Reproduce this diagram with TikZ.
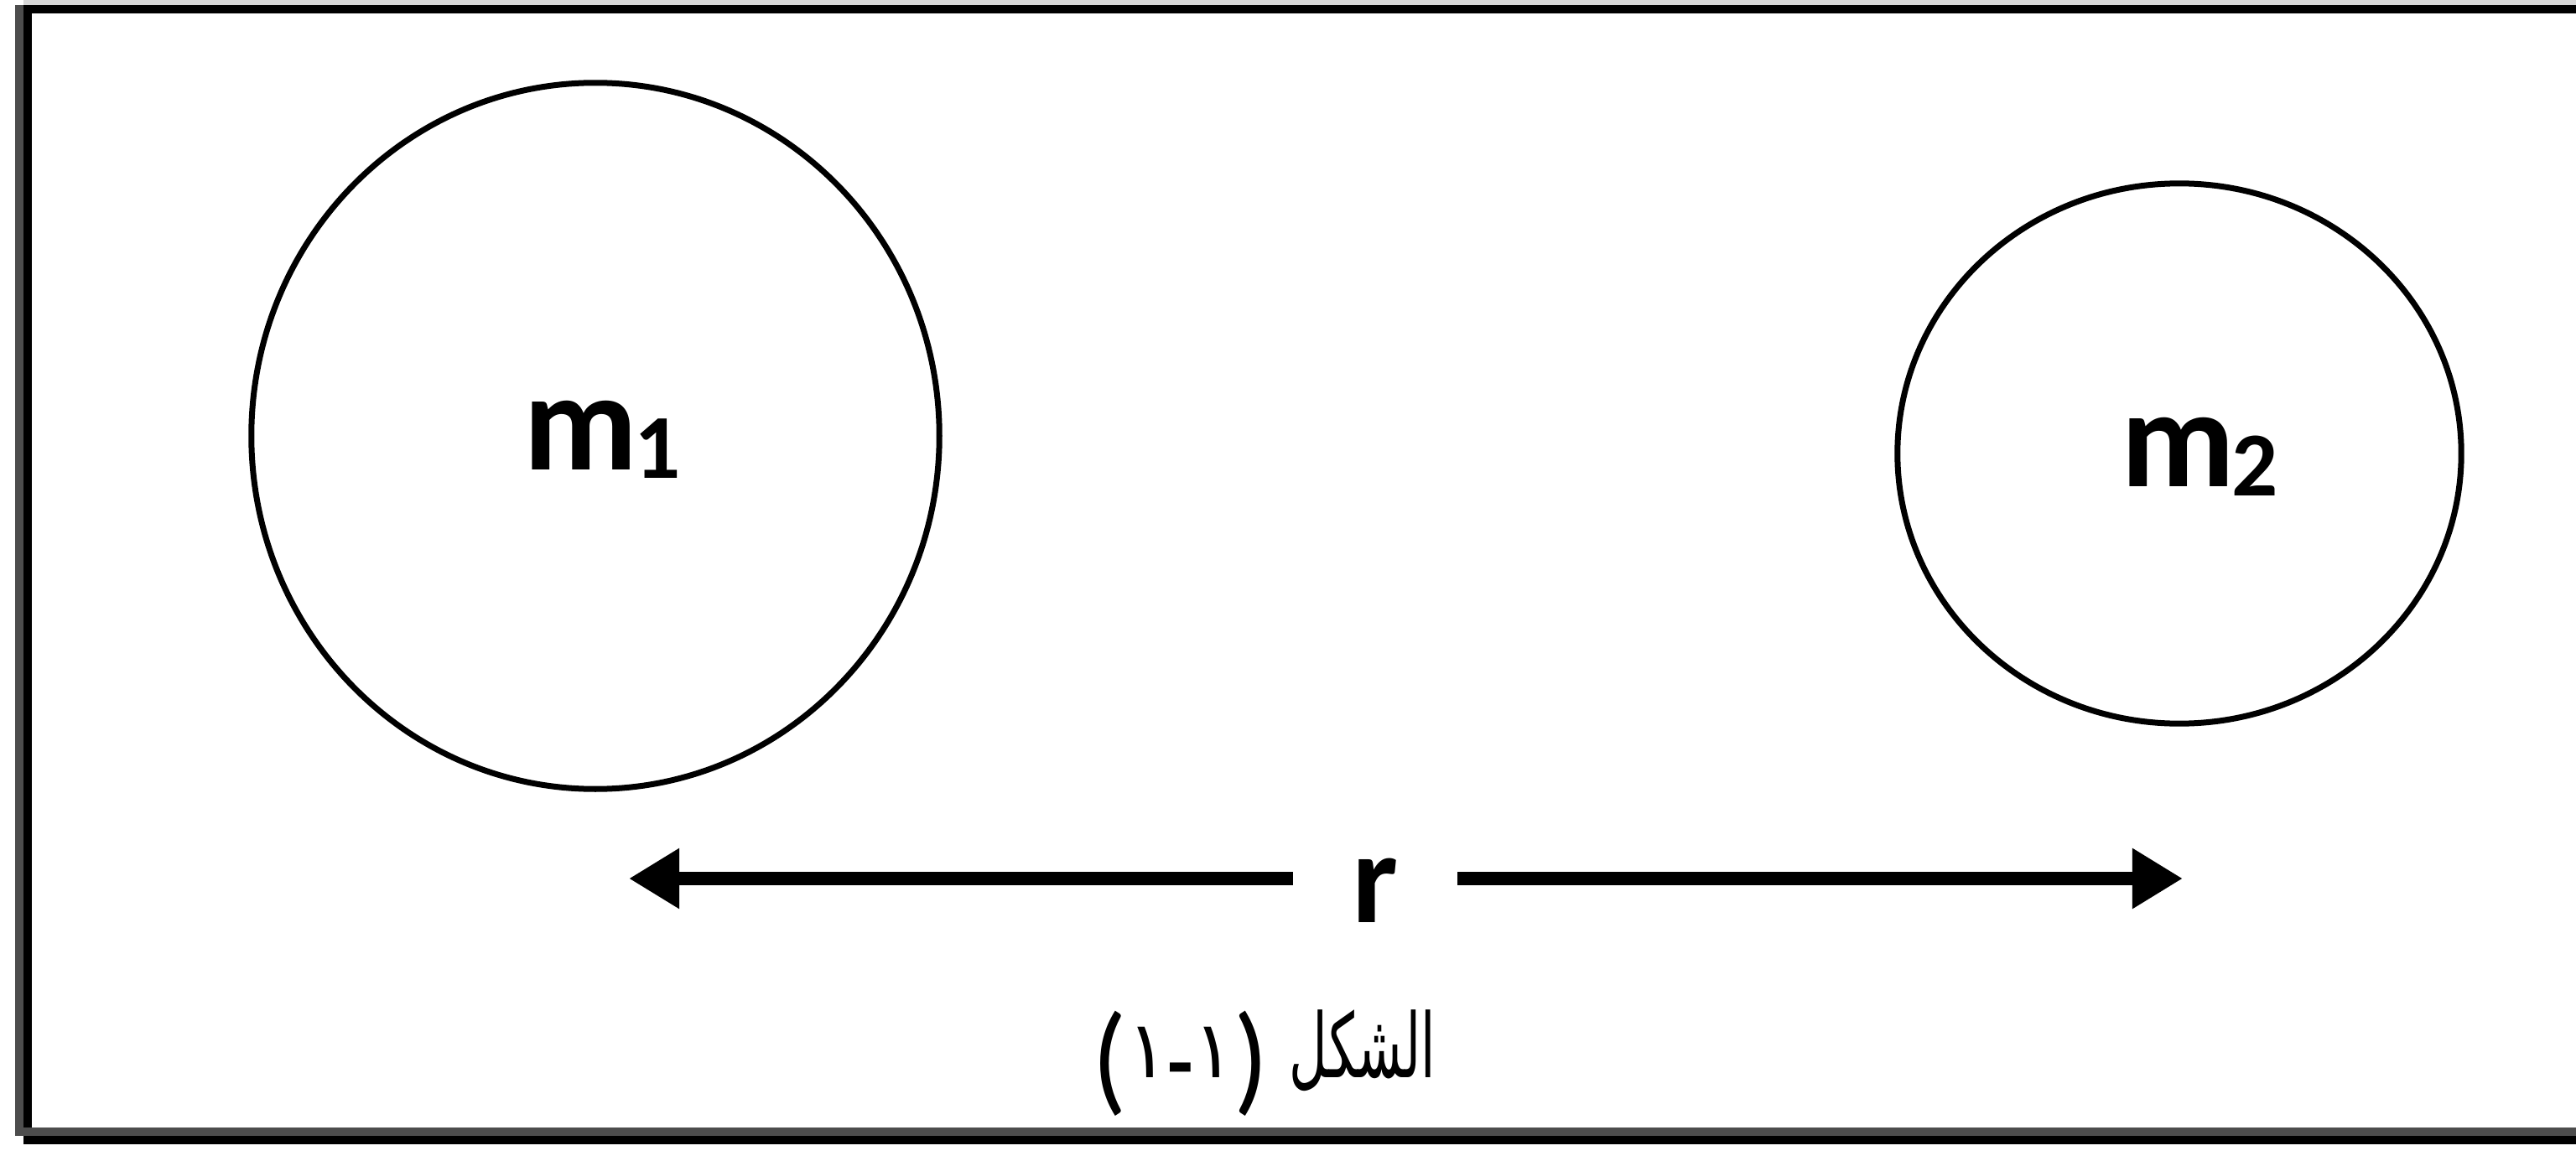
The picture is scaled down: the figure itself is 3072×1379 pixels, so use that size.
\documentclass[tikz,border=0pt]{standalone}
\usepackage{fontspec}
\setmainfont{Carlito}
\newfontfamily\arabicfont[Script=Arabic]{DejaVu Sans}
\TeXXeTstate=1
\usetikzlibrary{arrows.meta,shapes.geometric}
\definecolor{framegrey}{HTML}{4D4D4D}
\definecolor{bandgrey}{HTML}{D6D6D6}
\newcommand\subidx[2]{\kern-0.04cm\raisebox{-#1}{\fontsize{31pt}{31pt}\selectfont #2}}
\newcommand\capparen[1]{\raisebox{-0.26cm}{\rmfamily\fontsize{41pt}{41pt}\selectfont #1}}
\newcommand\caphyph{\raisebox{-0.18cm}{\rmfamily\bfseries\fontsize{30pt}{30pt}\selectfont -}}
\tikzset{
  body/.style={draw=black, line width=0.07cm, ellipse, inner sep=0pt},
  lbl/.style={anchor=base west, inner sep=0pt, font=\fontsize{47.5pt}{50pt}\selectfont\bfseries},
  dist/.style={line width=0.16cm, -{Triangle[length=0.6cm,width=0.68cm]}},
  captxt/.style={anchor=base, inner sep=0pt, transform shape, font=\arabicfont\fontsize{27pt}{30pt}\selectfont},
}
\begin{document}
\begin{tikzpicture}[x=0.01cm, y=-0.01cm]
\useasboundingbox (0,0) rectangle (3072,1379);
% frame
\fill[bandgrey] (28,0) rectangle (3072,6);
\fill[black] (28,6) rectangle (3072,16);
\fill[framegrey] (18,6) rectangle (28,1355);
\fill[black] (28,16) rectangle (38,1365);
\fill[framegrey] (28,1345) rectangle (3072,1355);
\fill[black] (28,1355) rectangle (3072,1365);
% bodies
\node[body, minimum width=8.2cm, minimum height=8.42cm] (c1) at (710,520) {};
\node[body, minimum width=6.72cm, minimum height=6.44cm] (c2) at (2599,541) {};
\node[lbl] (m1) at (624,560) {m\subidx{0.1cm}{1}};
\node[lbl] (m2) at (2529,580) {m\subidx{0.11cm}{2}};
% distance
\coordinate (aL) at (750,1048);
\coordinate (aR) at (2603,1048);
\node[anchor=base, inner sep=0pt, minimum width=1.95cm, font=\fontsize{44pt}{46pt}\selectfont\bfseries] (r) at (1640,1100) {r\hspace{0.24cm}};
\draw[dist] (aL -| r.west) -- (aL);
\draw[dist] (aR -| r.east) -- (aR);
% caption
\node[captxt, xscale=0.66, yscale=1.12] (capw) at (1625,1285) {\beginR الشكل\endR};
\node[captxt, xscale=0.95] (capn) at (1408,1285) {\capparen{(}١\caphyph ١\capparen{)}};
\end{tikzpicture}
\end{document}
